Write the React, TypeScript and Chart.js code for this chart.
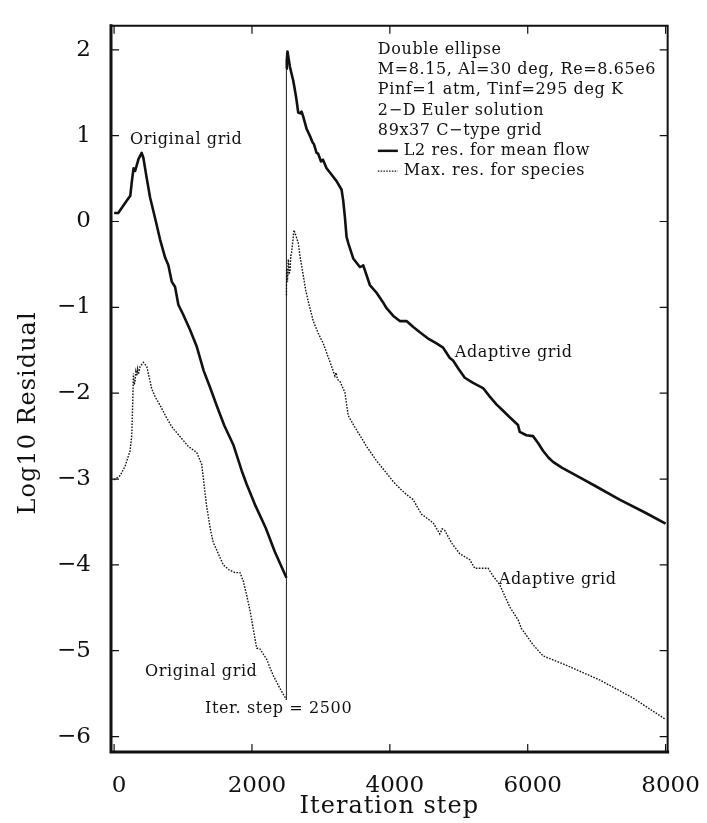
import React, { useEffect, useRef } from "react";
import { Chart, registerables } from "chart.js";

Chart.register(...registerables);

// ---- Data ----
const meanOrigX = [0, 60, 120, 190, 235, 258, 282, 305, 330, 355, 400, 425, 470, 522, 600, 667, 740, 787, 836, 884, 932, 1000, 1101, 1200, 1300, 1391, 1500, 1600, 1729, 1850, 1923, 2050, 2200, 2333, 2500];
const meanOrigY = [0.10, 0.10, 0.17, 0.25, 0.30, 0.47, 0.62, 0.59, 0.66, 0.73, 0.80, 0.74, 0.52, 0.28, 0.02, -0.21, -0.42, -0.51, -0.70, -0.76, -0.97, -1.08, -1.26, -1.46, -1.74, -1.93, -2.17, -2.38, -2.60, -2.90, -3.06, -3.31, -3.57, -3.85, -4.15];

const meanAdaptX = [2500, 2505, 2515, 2551, 2599, 2640, 2671, 2700, 2720, 2745, 2792, 2850, 2880, 2900, 2937, 2960, 3000, 3030, 3082, 3150, 3227, 3300, 3324, 3348, 3372, 3400, 3469, 3565, 3600, 3614, 3660, 3710, 3807, 3900, 3952, 4050, 4145, 4242, 4340, 4435, 4550, 4677, 4773, 4870, 4917, 5000, 5087, 5207, 5352, 5450, 5546, 5650, 5739, 5859, 5884, 5981, 6077, 6150, 6222, 6300, 6367, 6500, 6754, 7000, 7333, 7700, 8000];
const meanAdaptY = [1.78, 1.88, 1.98, 1.80, 1.64, 1.45, 1.27, 1.26, 1.28, 1.22, 1.08, 0.98, 0.92, 0.90, 0.80, 0.79, 0.70, 0.72, 0.62, 0.55, 0.47, 0.37, 0.24, 0.05, -0.18, -0.26, -0.43, -0.53, -0.52, -0.51, -0.62, -0.74, -0.83, -0.94, -1.01, -1.10, -1.16, -1.16, -1.23, -1.29, -1.36, -1.42, -1.47, -1.59, -1.62, -1.72, -1.82, -1.88, -1.94, -2.04, -2.13, -2.21, -2.28, -2.37, -2.45, -2.49, -2.50, -2.58, -2.67, -2.75, -2.80, -2.87, -2.98, -3.09, -3.24, -3.39, -3.52];

const speciesOrigX = [0, 87, 160, 232, 256, 270, 280, 292, 304, 316, 329, 340, 353, 377, 425, 474, 546, 600, 667, 750, 836, 950, 1077, 1198, 1271, 1310, 1343, 1400, 1439, 1512, 1584, 1670, 1754, 1826, 1874, 1925, 1971, 2068, 2116, 2213, 2309, 2406, 2500];
const speciesOrigY = [-3.01, -2.96, -2.85, -2.67, -2.49, -2.11, -1.77, -1.90, -1.86, -1.75, -1.80, -1.72, -1.78, -1.69, -1.64, -1.69, -1.95, -2.05, -2.14, -2.27, -2.39, -2.50, -2.62, -2.69, -2.83, -3.10, -3.32, -3.60, -3.74, -3.87, -4.00, -4.06, -4.09, -4.09, -4.19, -4.36, -4.53, -4.97, -4.98, -5.10, -5.29, -5.44, -5.57];

const speciesAdaptX = [2500, 2503, 2515, 2527, 2540, 2551, 2563, 2575, 2609, 2640, 2671, 2700, 2744, 2780, 2816, 2889, 2960, 3034, 3106, 3160, 3203, 3220, 3240, 3275, 3348, 3396, 3480, 3565, 3662, 3800, 3950, 4050, 4145, 4240, 4338, 4459, 4628, 4725, 4760, 4797, 4900, 5014, 5159, 5232, 5425, 5497, 5594, 5739, 5860, 5908, 6077, 6222, 6561, 7043, 7526, 8000];
const speciesAdaptY = [-0.86, -0.55, -0.70, -0.44, -0.60, -0.59, -0.40, -0.36, -0.10, -0.17, -0.25, -0.42, -0.63, -0.80, -0.93, -1.16, -1.30, -1.42, -1.58, -1.70, -1.80, -1.76, -1.84, -1.86, -1.99, -2.26, -2.38, -2.49, -2.62, -2.78, -2.93, -3.03, -3.11, -3.18, -3.24, -3.41, -3.51, -3.64, -3.58, -3.60, -3.75, -3.87, -3.94, -4.04, -4.04, -4.13, -4.23, -4.49, -4.64, -4.74, -4.93, -5.06, -5.17, -5.34, -5.55, -5.80];

const restartX = [2500, 2500];
const restartY = [-5.57, 1.78];

const xTicks = [0, 2000, 4000, 6000, 8000];
const yTicks = [-6, -5, -4, -3, -2, -1, 0, 1, 2];

const infoLines = [
  "Double ellipse",
  "M=8.15, Al=30 deg, Re=8.65e6",
  "Pinf=1 atm, Tinf=295 deg K",
  "2\u2212D Euler solution",
  "89x37 C\u2212type grid",
];
const seriesNames = ["L2 res. for mean flow", "Max. res. for species"];

const xTitle = "Iteration step";
const yTitle = "Log10 Residual";

// annotation anchors in data units (left edge, vertical middle)
const notes = [
  { text: "Original grid", x: 232, y: 0.95 },
  { text: "Original grid", x: 450, y: -5.25 },
  { text: "Iter. step = 2500", x: 1319, y: -5.68 },
  { text: "Adaptive grid", x: 4942, y: -1.53 },
  { text: "Adaptive grid", x: 5580, y: -4.17 },
];
const infoAnchor = { x: 3826, y: 2.0 };

const FONT = "'DejaVu Serif', 'Liberation Serif', serif";

const pts = (xs: number[], ys: number[]) => xs.map((x, i) => ({ x, y: ys[i] }));

const decorPlugin = {
  id: "decor",
  afterDatasetsDraw(chart: any) {
    const { ctx, chartArea: a, scales } = chart;
    const xs = scales.x;
    const ys = scales.y;
    ctx.save();
    ctx.fillStyle = "#111";
    ctx.strokeStyle = "#111";

    // frame
    ctx.lineCap = "square";
    ctx.lineWidth = 3;
    ctx.beginPath();
    ctx.moveTo(a.left, a.top);
    ctx.lineTo(a.left, a.bottom);
    ctx.lineTo(a.right, a.bottom);
    ctx.stroke();
    ctx.lineWidth = 2;
    ctx.beginPath();
    ctx.moveTo(a.left, a.top);
    ctx.lineTo(a.right, a.top);
    ctx.lineTo(a.right, a.bottom);
    ctx.stroke();

    // inward ticks
    ctx.lineWidth = 1.2;
    ctx.lineCap = "butt";
    const tl = 8;
    ctx.beginPath();
    xTicks.forEach((v) => {
      const p = xs.getPixelForValue(v);
      ctx.moveTo(p, a.bottom);
      ctx.lineTo(p, a.bottom - tl);
      ctx.moveTo(p, a.top);
      ctx.lineTo(p, a.top + tl);
    });
    yTicks.forEach((v) => {
      const p = ys.getPixelForValue(v);
      ctx.moveTo(a.left, p);
      ctx.lineTo(a.left + tl, p);
      ctx.moveTo(a.right, p);
      ctx.lineTo(a.right - tl, p);
    });
    ctx.stroke();

    // annotation texts
    ctx.font = `16px ${FONT}`;
    (ctx as any).letterSpacing = "0.6px";
    ctx.textAlign = "left";
    ctx.textBaseline = "middle";
    notes.forEach((n) => {
      ctx.fillText(n.text, xs.getPixelForValue(n.x), ys.getPixelForValue(n.y));
    });

    // info block + legend
    const lx = xs.getPixelForValue(infoAnchor.x);
    let ly = ys.getPixelForValue(infoAnchor.y);
    const step = 20.2;
    infoLines.forEach((t) => {
      ctx.fillText(t, lx, ly);
      ly += step;
    });
    seriesNames.forEach((t, i) => {
      ctx.beginPath();
      ctx.lineWidth = i === 0 ? 2.5 : 1.3;
      ctx.setLineDash(i === 0 ? [] : [1.5, 1.3]);
      ctx.moveTo(lx, ly);
      ctx.lineTo(lx + 20, ly);
      ctx.stroke();
      ctx.setLineDash([]);
      ctx.fillText(t, lx + 26, ly);
      ly += step;
    });

    // axis titles
    ctx.font = `24px ${FONT}`;
    (ctx as any).letterSpacing = "1px";
    ctx.textAlign = "center";
    ctx.textBaseline = "middle";
    ctx.fillText(xTitle, (a.left + a.right) / 2, a.bottom + 55);
    ctx.save();
    ctx.translate(29, (a.top + a.bottom) / 2 + 24);
    ctx.rotate(-Math.PI / 2);
    ctx.fillText(yTitle, 0, 0);
    ctx.restore();

    ctx.restore();
  },
};

export default function App() {
  const ref = useRef<HTMLCanvasElement | null>(null);

  useEffect(() => {
    if (!ref.current) return;
    const solid = { borderColor: "#111", borderWidth: 2.6, pointRadius: 0, tension: 0, borderJoinStyle: "round" as const, fill: false };
    const dotted = { borderColor: "#111", borderWidth: 1.4, borderDash: [1.6, 1.4], pointRadius: 0, tension: 0, fill: false };
    const chart = new Chart(ref.current, {
      type: "line",
      data: {
        datasets: [
          { label: seriesNames[0], data: pts(meanOrigX, meanOrigY), ...solid },
          { label: seriesNames[0] + " (adaptive)", data: pts(meanAdaptX, meanAdaptY), ...solid },
          { label: seriesNames[1], data: pts(speciesOrigX, speciesOrigY), ...dotted },
          { label: seriesNames[1] + " (adaptive)", data: pts(speciesAdaptX, speciesAdaptY), ...dotted },
          { label: "restart", data: pts(restartX, restartY), borderColor: "#333", borderWidth: 1.1, pointRadius: 0, fill: false },
        ],
      },
      options: {
        responsive: false,
        animation: false,
        layout: { padding: { left: 0, top: 7, right: 39, bottom: 0 } },
        plugins: { legend: { display: false }, tooltip: { enabled: false }, title: { display: false } },
        scales: {
          x: {
            type: "linear",
            min: -45,
            max: 8030,
            afterBuildTicks: (s: any) => {
              s.ticks = xTicks.map((v) => ({ value: v }));
            },
            afterFit: (s: any) => {
              s.height = 71;
            },
            grid: { display: false },
            border: { display: false },
            ticks: {
              padding: 12,
              labelOffset: 5,
              maxRotation: 0,
              color: "#111",
              font: { family: FONT, size: 23 },
              callback: (v: any) => String(v),
            },
          },
          y: {
            type: "linear",
            min: -6.18,
            max: 2.28,
            afterBuildTicks: (s: any) => {
              s.ticks = yTicks.map((v) => ({ value: v }));
            },
            afterFit: (s: any) => {
              s.width = 111;
            },
            grid: { display: false },
            border: { display: false },
            ticks: {
              padding: 12,
              color: "#111",
              font: { family: FONT, size: 23 },
              callback: (v: any) => (v < 0 ? "\u2212" + Math.abs(v) : String(v)),
            },
          },
        },
      },
      plugins: [decorPlugin],
    });
    return () => chart.destroy();
  }, []);

  return (
    <div style={{ position: "absolute", left: 0, top: 0, width: 707, height: 823, background: "#fff" }}>
      <canvas ref={ref} width={707} height={823} style={{ display: "block", width: 707, height: 823 }} />
    </div>
  );
}
